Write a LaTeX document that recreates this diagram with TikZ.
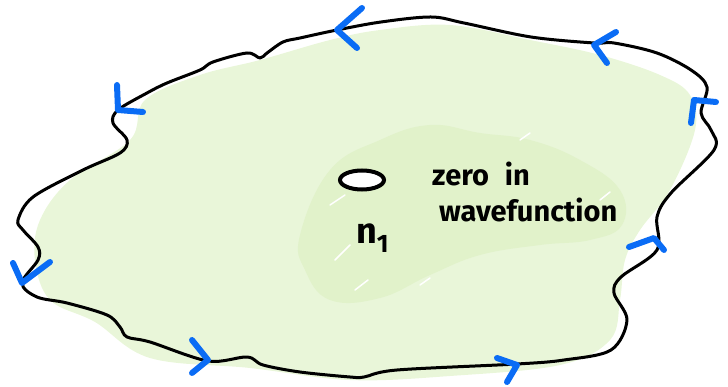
\documentclass[tikz,border=0pt]{standalone}
\usepackage{fontspec}
\setmainfont{Fira Sans}
\usetikzlibrary{shapes.geometric}
\definecolor{bggreen}{RGB}{233,246,217}
\definecolor{ingreen}{RGB}{225,242,202}
\definecolor{penblue}{RGB}{10,108,245}
\begin{document}
\begin{tikzpicture}[x=1pt,y=-1pt,
  outline/.style={line width=3pt,black,line cap=round,line join=round},
  chev/.style={line width=6pt,draw=penblue,line cap=round,line join=round},
  lbl/.style={font=\fontsize{29}{31}\selectfont\bfseries,inner sep=0pt,anchor=west}]
\useasboundingbox (0,0) rectangle (728,387);
% outer green fill
\fill[bggreen] plot[smooth cycle,tension=0.6] coordinates {
 (380,30) (450,25) (530,40) (600,55) (660,75) (690,95) (695,130) (670,190) (640,230)
 (625,260) (620,300) (610,340) (560,365) (450,376) (350,380) (250,368) (150,358)
 (95,322) (50,300) (35,260) (40,220) (70,180) (130,140) (145,100) (200,75) (260,60) (330,40)};
% inner darker scribble cloud
\fill[ingreen] plot[smooth cycle,tension=0.7] coordinates {
 (300,235) (330,170) (380,140) (430,125) (480,133) (530,140) (580,160) (620,190) (622,225)
 (590,240) (540,245) (480,255) (430,275) (380,298) (330,300) (305,270)};
\draw[white,line width=1.5pt,line cap=round] (330,205) -- (345,195) (335,260) -- (350,245)
 (355,290) -- (368,280) (520,140) -- (530,133) (600,200) -- (610,192) (420,285) -- (430,278);
% outline
\draw[outline] plot[smooth cycle,tension=0.55] coordinates {
 (337,30) (300,38) (283,42) (267,53) (260,58) (247,53) (213,62) (200,70) (167,83)
 (147,93) (118,110) (113,123) (127,140) (120,153) (83,170) (33,197) (18,220) (23,230)
 (38,247) (38,260) (22,283) (37,297) (67,303) (107,315) (120,327) (127,337) (150,342)
 (208,361) (247,357) (263,365) (300,372) (350,377) (364,377) (397,370) (517,364)
 (564,360) (611,350) (627,320) (614,293) (621,277) (657,250) (657,217) (671,193)
 (714,150) (711,130) (701,113) (707,87) (691,70) (657,53) (614,43) (594,43)
 (531,37) (464,23) (431,17) (381,22)};
% blue chevrons
\draw[chev] (362,8) -- (337,30) -- (357,48);
\draw[chev] (616,32) -- (594,45) -- (607,63);
\draw[chev] (691,123) -- (694,100) -- (716,102);
\draw[chev] (629,247) -- (654,238) -- (664,250);
\draw[chev] (497,358) -- (517,365) -- (507,382);
\draw[chev] (192,340) -- (208,360) -- (192,373);
\draw[chev] (13,263) -- (22,283) -- (50,262);
\draw[chev] (117,85) -- (118,110) -- (143,112);
% zero ellipse
\node[draw,line width=4pt,ellipse,fill=white,minimum width=44pt,minimum height=19pt,inner sep=0pt] (zero) at (362,180) {};
% labels
\node[lbl,font=\fontsize{36}{38}\selectfont] (r) at (356,238) {$\mathbf{n_1}$};
\node[lbl] (t1) at (432,174) {zero\hspace{16pt}in};
\node[lbl] (t2) at (439,210) {wavefunction};
\end{tikzpicture}
\end{document}
